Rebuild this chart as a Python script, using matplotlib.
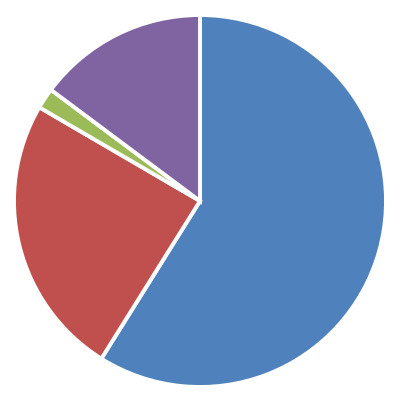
import matplotlib
matplotlib.use("Agg")
from matplotlib import pyplot as plt

# slice shares in percent, clockwise from 12 o'clock
labels = ["A", "B", "C", "D"]
values = [58.9, 24.5, 1.8, 14.8]
colors = ["#4F81BD", "#C0504D", "#9BBB59", "#8064A2"]

fig = plt.figure(figsize=(4.0, 3.97), dpi=100)
ax = fig.add_axes([0, 0, 1, 1])
ax.pie(values, colors=colors, startangle=90, counterclock=False,
       radius=1.0, wedgeprops={"edgecolor": "white", "linewidth": 2.8})
ax.set_aspect("auto")
ax.set_xlim(-200 / 186, 200 / 186)
ax.set_ylim(-196 / 186, 201 / 186)
ax.axis("off")

fig.savefig("out.png", dpi=100)
